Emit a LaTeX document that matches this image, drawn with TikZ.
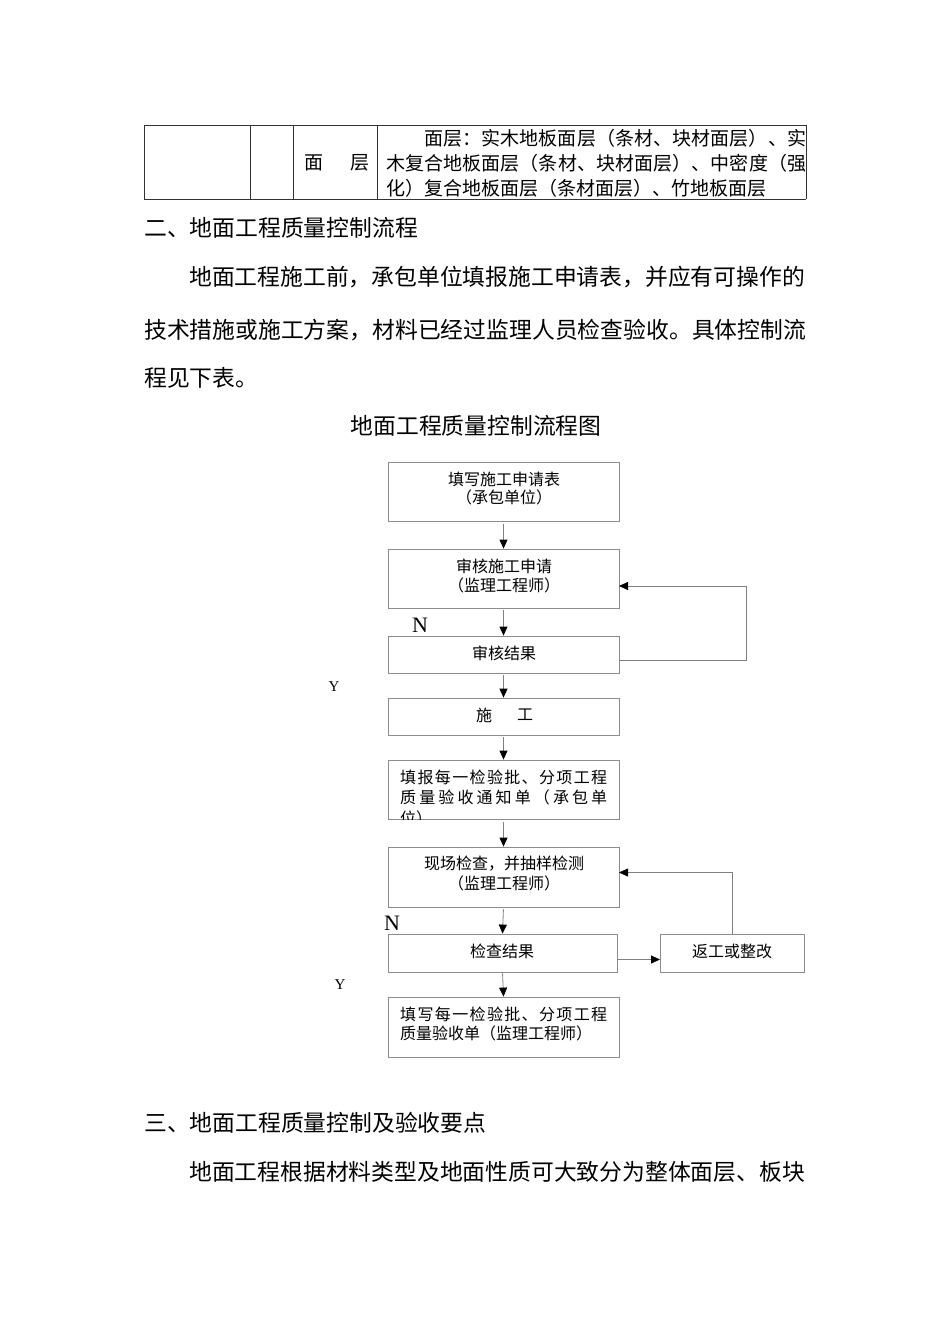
\documentclass[tikz,border=0pt]{standalone}
\usepackage{fontspec}
\setmainfont{Noto Sans CJK SC}
\newfontfamily\latf{Liberation Serif}
\usetikzlibrary{arrows.meta}
\def\mySpA#1{#1\mySpB}
\def\mySpB#1{\ifx#1\relax\else\hfil#1\expandafter\mySpB\fi}
\newcommand\mySpread[2]{\hbox to #1{\mySpA#2\relax}}
\begin{document}
\begin{tikzpicture}[x=1bp,y=-1bp,
  body/.style={inner sep=0, anchor=west, font=\fontsize{22.8bp}{24bp}\selectfont},
  cell/.style={inner sep=0, anchor=west, font=\fontsize{19bp}{20bp}\selectfont},
  fc/.style={inner sep=0, font=\fontsize{16bp}{17bp}\selectfont},
  fcl/.style={fc, anchor=west},
  box/.style={draw=black!45, line width=0.8bp, inner sep=0, minimum width=231bp},
  tline/.style={draw=black!80, line width=0.9bp},
  conn/.style={draw=black!50, line width=0.8bp, -{Triangle[length=9bp,width=8bp,fill=black,color=black]}},
  plain/.style={draw=black!50, line width=0.8bp},
  lbl/.style={inner sep=0, font=\latf}
]
\useasboundingbox (0,0) rectangle (950,1344);
\fill[white] (0,0) rectangle (950,1344);

% ---- table fragment ----
\draw[tline] (144,125) -- (806,125);
\draw[tline] (144,199.5) -- (806,199.5);
\foreach \xx in {144,250,293,377,806} \draw[tline] (\xx,125) -- (\xx,199.5);
\node[cell] (c1) at (304,163) {面};
\node[cell] (c2) at (350,163) {层};
\node[cell] (r1) at (424,138) {\mySpread{382bp}{面层：实木地板面层（条材、块材面层）、实}};
\node[cell] (r2) at (386,163) {\mySpread{420bp}{木复合地板面层（条材、块材面层）、中密度（强}};
\node[cell] (r3) at (386,188) {化）复合地板面层（条材面层）、竹地板面层};

% ---- body text ----
\node[body] (h2) at (144,228) {二、地面工程质量控制流程};
\node[body] (p1) at (189,277) {地面工程施工前，承包单位填报施工申请表，并应有可操作的};
\node[body] (p2) at (144,330) {\mySpread{662bp}{技术措施或施工方案，材料已经过监理人员检查验收。具体控制流}};
\node[body] (p3) at (144,378) {程见下表。};
\node[body, anchor=center] (title) at (476,426) {地面工程质量控制流程图};
\node[body] (h3) at (144,1123) {三、地面工程质量控制及验收要点};
\node[body] (p4) at (189,1172) {地面工程根据材料类型及地面性质可大致分为整体面层、板块};

% ---- flowchart boxes ----
\node[box, minimum height=59bp] (b1) at (503.5,491.5) {};
\node[box, minimum height=59bp] (b2) at (503.5,578.5) {};
\node[box, minimum height=37bp] (b3) at (503.5,654.5) {};
\node[box, minimum height=37bp] (b4) at (503.5,716.5) {};
\node[box, minimum height=59bp] (b5) at (503.5,789.5) {};
\node[box, minimum height=60bp] (b6) at (503.5,877) {};
\node[box, minimum height=38bp, minimum width=229bp] (b7) at (502.5,953) {};
\node[box, minimum height=38bp, minimum width=144bp] (rw) at (732,953) {};
\node[box, minimum height=60bp] (b8) at (503.5,1027) {};

% ---- flowchart texts ----
\node[fc] (t1a) at (504,479) {填写施工申请表};
\node[fc] (t1b) at (504,497) {（承包单位）};
\node[fc] (t2a) at (504,566) {审核施工申请};
\node[fc] (t2b) at (504,585) {（监理工程师）};
\node[fc] (t3) at (504,653) {审核结果};
\node[fc] (t4a) at (484,715) {施};
\node[fc] (t4b) at (525,715) {工};
\node[fcl] (t5a) at (400,777) {\mySpread{207bp}{填报每一检验批、分项工程}};
\node[fcl] (t5b) at (400,797) {\mySpread{207bp}{质量验收通知单（承包单}};
\begin{scope}
  \clip (388,800) rectangle (619,819);
  \node[fcl] (t5c) at (400,818) {位）};
\end{scope}
\node[fc] (t6a) at (504,864) {现场检查，并抽样检测};
\node[fc] (t6b) at (504,883) {（监理工程师）};
\node[fc] (t7) at (502,951) {检查结果};
\node[fc] (trw) at (732,951) {返工或整改};
\node[fcl] (t8a) at (400,1014) {\mySpread{207bp}{填写每一检验批、分项工程}};
\node[fcl] (t8b) at (400,1033) {质量验收单（监理工程师）};

% ---- labels ----
\node[lbl, font=\latf\fontsize{22bp}{22bp}\selectfont] (n1) at (420,625) {N};
\node[lbl, font=\latf\fontsize{15bp}{15bp}\selectfont] (y1) at (334,687) {Y};
\node[lbl, font=\latf\fontsize{22bp}{22bp}\selectfont] (n2) at (392,923) {N};
\node[lbl, font=\latf\fontsize{15bp}{15bp}\selectfont] (y2) at (340,985) {Y};

% ---- connectors ----
\draw[conn, shorten <=3bp] (b1.south) -- (b2.north);
\draw[conn, shorten <=2bp] (b2.south) -- (b3.north);
\draw[conn, shorten <=2bp] (b3.south) -- (b4.north);
\draw[conn, shorten <=2bp] (b4.south) -- (b5.north);
\draw[conn, shorten <=3bp] (b5.south) -- (b6.north);
\draw[conn, shorten <=2bp] (b6.south) -- (b7.north);
\draw[conn, shorten <=1bp] (b7.south) -- (b8.north);
\coordinate (l1s) at (619,660.5);
\coordinate (l1c) at (746.5,660.5);
\coordinate (l1e) at (619,586);
\draw[conn] (l1s) -- (l1c) |- (l1e);
\coordinate (l2s) at (617,959.5);
\coordinate (l2e) at (660,959.5);
\draw[conn] (l2s) -- (l2e);
\coordinate (l2t) at (732,872.5);
\coordinate (l2f) at (619,872.5);
\draw[conn] (rw.north) -- (l2t) -- (l2f);
\end{tikzpicture}
\end{document}
